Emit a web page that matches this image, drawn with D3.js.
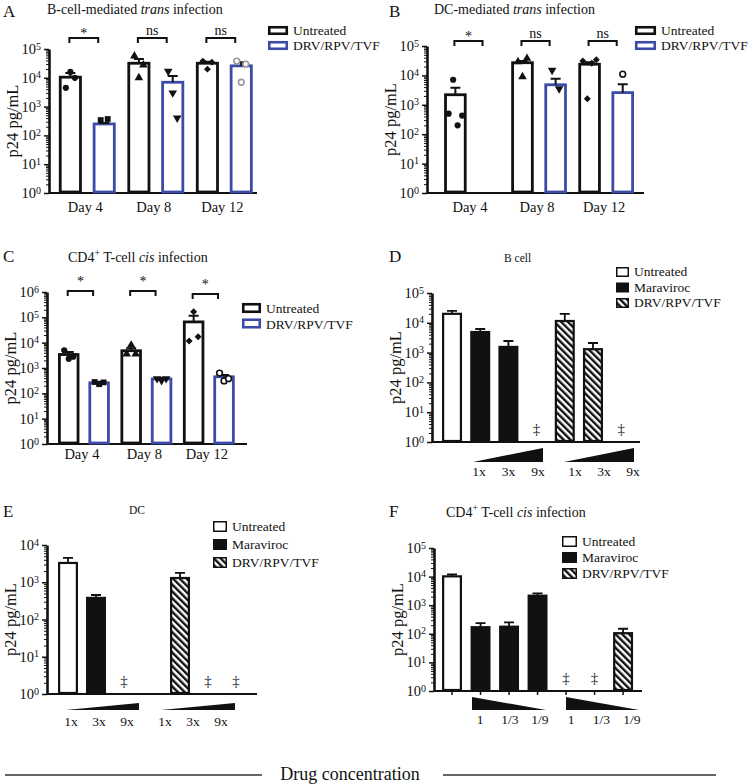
<!DOCTYPE html>
<html>
<head>
<meta charset="utf-8">
<script src="https://cdn.jsdelivr.net/npm/d3@7"></script>
<style>
  body { margin: 0; background: #fff; }
  svg, svg text { font-family: "Liberation Serif", "DejaVu Serif", "Times New Roman", serif; }
</style>
</head>
<body>
<svg id="fig" width="753" height="784" font-family="Liberation Serif, DejaVu Serif, serif"></svg>
<script>
// ---- data ----
var days = ["Day 4", "Day 8", "Day 12"];
var treatments = ["Untreated", "DRV/RPV/TVF"];
var conditions = ["Untreated", "Maraviroc", "DRV/RPV/TVF"];

// A: B-cell-mediated trans infection
var aUntreatedMean = [10500, 32000, 32000];
var aUntreatedErr = [14800, 45000, 36000];
var aUntreatedPts = [[4500, 16000, 10000], [57000, 10000, 28000], [38000, 20000, 35000]];
var aDrugMean = [250, 7000, 26000];
var aDrugErr = [270, 11500, 35000];
var aDrugPts = [[340, 370], [17000, 3000, 400], [38000, 7000, 30000]];
var aSig = ["*", "ns", "ns"];

// B: DC-mediated trans infection
var bUntreatedMean = [2200, 27000, 24000];
var bUntreatedErr = [3800, 31000, 28000];
var bUntreatedPts = [[500, 7100, 200, 430], [29000, 9000, 38000], [31000, 1600, 26000, 34000]];
var bDrugMean = [null, 4800, 2600];
var bDrugErr = [null, 7700, 5000];
var bDrugPts = [[], [15000, 3500], [11000]];
var bSig = ["*", "ns", "ns"];

// C: CD4+ T-cell cis infection
var cUntreatedMean = [3400, 4800, 66000];
var cUntreatedErr = [4300, 6000, 115000];
var cUntreatedPts = [[5000, 2300, 2800], [3600, 8000, 3600], [11700, 165000, 17000]];
var cDrugMean = [260, 370, 450];
var cDrugErr = [285, 400, 530];
var cDrugPts = [[280, 230, 270], [380, 320, 380], [630, 310, 380]];
var cSig = ["*", "*", "*"];

// D, E, F: drug titrations
var slotTreat = ["Untreated", "Maraviroc", "Maraviroc", "Maraviroc", "DRV/RPV/TVF", "DRV/RPV/TVF", "DRV/RPV/TVF"];
var foldSlots = ["Untreated", "MVC 1x", "MVC 3x", "MVC 9x", "DRV 1x", "DRV 3x", "DRV 9x"];
var foldDoses = ["1x", "3x", "9x"];
var dilutionSlots = ["Untreated", "MVC 1", "MVC 1/3", "MVC 1/9", "DRV 1", "DRV 1/3", "DRV 1/9"];
var dilutionDoses = ["1", "1/3", "1/9"];

var dMean = [20000, 4900, 1550, null, 11500, 1300, null];
var dErr = [25000, 6200, 2450, null, 20000, 2100, null];
var dBelowLimit = ["MVC 9x", "DRV 9x"];

var eMean = [3300, 380, null, null, 1300, null, null];
var eErr = [4500, 455, null, null, 1780, null, null];
var eBelowLimit = ["MVC 3x", "DRV 3x", "DRV 9x"];

var fMean = [10200, 170, 177, 2150, null, null, 105];
var fErr = [12000, 235, 250, 2600, null, null, 150];
var fBelowLimit = ["DRV 1", "DRV 1/3"];

// ---- drawing ----
var INK = "#111";
var BLUE = "#3c4ca6";
var SERIF = "Liberation Serif, DejaVu Serif, Times New Roman, serif";

var svg = d3.select("#fig");
svg.append("rect").attr("width", 753).attr("height", 784).attr("fill", "#fff");

var defs = svg.append("defs");
var hatch = defs.append("pattern")
    .attr("id", "hatch")
    .attr("patternUnits", "userSpaceOnUse")
    .attr("width", 4.8)
    .attr("height", 4.8)
    .attr("patternTransform", "rotate(-45)");
hatch.append("rect").attr("width", 4.8).attr("height", 4.8).attr("fill", "#fff");
hatch.append("rect").attr("width", 2.4).attr("height", 4.8).attr("fill", INK);

function addText(x, y, str, size, anchor) {
    return svg.append("text")
        .attr("x", x).attr("y", y)
        .attr("font-family", SERIF)
        .attr("font-size", size)
        .attr("text-anchor", anchor || "start")
        .attr("fill", INK)
        .text(str);
}

function addTitle(x, y, segs, size) {
    var t = svg.append("text").attr("x", x).attr("y", y)
        .attr("font-family", SERIF)
        .attr("font-size", size).attr("fill", INK);
    var shift = 0;
    segs.forEach(function(s) {
        var sp = t.append("tspan").text(s[0]);
        if (s[1] === "i") sp.attr("font-style", "italic");
        if (s[1] === "sup") {
            sp.attr("font-size", size * 0.7).attr("dy", -6);
            shift = 6;
        } else if (shift) {
            sp.attr("dy", shift);
            shift = 0;
        }
    });
}

function logAxis(g, y, cfg) {
    var majors = d3.range(0, cfg.maxExp + 1).map(e => Math.pow(10, e));
    var minors = [];
    for (var e = 0; e < cfg.maxExp; e++) {
        for (var k = 2; k < 10; k++) minors.push(k * Math.pow(10, e));
    }

    g.append("g")
        .attr("transform", `translate(${cfg.axisX},0)`)
        .call(d3.axisLeft(y).tickValues(minors).tickSize(3).tickSizeOuter(0).tickFormat(""))
        .call(a => a.select(".domain").remove())
        .selectAll("line").attr("stroke", INK).attr("stroke-width", 1);

    var yAxis = g.append("g")
        .attr("transform", `translate(${cfg.axisX},0)`)
        .call(d3.axisLeft(y).tickValues(majors).tickSize(5).tickSizeOuter(0).tickFormat(""));
    yAxis.select(".domain").attr("stroke", INK).attr("stroke-width", 2.6);
    yAxis.selectAll("line").attr("stroke", INK).attr("stroke-width", 1.5);

    var labels = g.selectAll(".ylab")
        .data(majors)
        .enter()
        .append("text")
            .attr("x", cfg.axisX - 8)
            .attr("y", d => y(d) + 5)
            .attr("text-anchor", "end")
            .attr("font-family", SERIF)
            .attr("font-size", 14.5)
            .attr("fill", INK);
    labels.append("tspan").text("10");
    labels.append("tspan").attr("font-size", 10).attr("dy", -4.5)
        .text(d => Math.round(Math.log10(d)));

    // x baseline
    g.append("line")
        .attr("x1", cfg.axisX).attr("x2", cfg.xEnd)
        .attr("y1", y(1)).attr("y2", y(1))
        .attr("stroke", INK).attr("stroke-width", 2);

    g.append("text")
        .attr("transform", `translate(${cfg.axisX - 31},${(cfg.yTop + cfg.yBottom) / 2}) rotate(-90)`)
        .attr("text-anchor", "middle")
        .attr("font-family", SERIF)
        .attr("font-size", 16.5)
        .attr("fill", INK)
        .text("p24 pg/mL");
}

var untShapes = ["circle", "triangle", "diamond"];
var drugShapes = ["square", "triangleDown", "openCircle"];

function markerPath(shape) {
    if (shape === "circle") return d3.symbol(d3.symbolCircle, 30)();
    if (shape === "openCircle") return d3.symbol(d3.symbolCircle, 26)();
    if (shape === "square") return d3.symbol(d3.symbolSquare, 34)();
    if (shape === "diamond") return d3.symbol(d3.symbolSquare, 24)();
    return d3.symbol(d3.symbolTriangle, 32)();
}
function markerRotation(shape) {
    if (shape === "diamond") return 45;
    if (shape === "triangleDown") return 180;
    return 0;
}

function groupedPanel(cfg, d) {
    var g = svg.append("g");
    var y = d3.scaleLog().domain([1, Math.pow(10, cfg.maxExp)]).range([cfg.yBottom, cfg.yTop]);
    var x = d3.scaleBand().domain(days).range(cfg.groupRange).paddingInner(0.17).paddingOuter(0.1);
    var xs = d3.scaleBand().domain(treatments).range([0, x.bandwidth()]).paddingInner(cfg.subPad);
    var bw = xs.bandwidth();

    logAxis(g, y, cfg);

    var rows = [];
    days.forEach(function(day, i) {
        rows.push({day: day, t: treatments[0], mean: d.untMean[i], err: d.untErr[i],
                   pts: d.untPts[i], shape: untShapes[i], color: INK});
        rows.push({day: day, t: treatments[1], mean: d.drugMean[i], err: d.drugErr[i],
                   pts: d.drugPts[i], shape: drugShapes[i], color: BLUE});
    });
    var cx = r => x(r.day) + xs(r.t) + bw / 2;

    var barRows = rows.filter(r => r.mean != null);
    g.selectAll(".bar")
        .data(barRows)
        .enter()
        .append("rect")
            .attr("x", r => x(r.day) + xs(r.t) + 1.4)
            .attr("y", r => y(r.mean))
            .attr("width", bw - 2.8)
            .attr("height", r => y(1) - y(r.mean) - 1)
            .attr("fill", "#fff")
            .attr("stroke", r => r.color)
            .attr("stroke-width", 2.8);

    var errRows = barRows.filter(r => r.err != null);
    g.selectAll(".err")
        .data(errRows)
        .enter()
        .append("path")
            .attr("d", r => `M${cx(r)},${y(r.mean)}V${y(r.err)}M${cx(r) - 5},${y(r.err)}H${cx(r) + 5}`)
            .attr("fill", "none")
            .attr("stroke", INK)
            .attr("stroke-width", 2);

    rows.forEach(function(r) {
        var n = r.pts.length;
        var open = r.shape === "openCircle";
        var spread = n === 2 ? 7 : 4.5;
        g.selectAll(null)
            .data(r.pts)
            .enter()
            .append("path")
                .attr("d", markerPath(r.shape))
                .attr("transform", (v, i) => `translate(${cx(r) + (i - (n - 1) / 2) * spread},${y(v)}) rotate(${markerRotation(r.shape)})`)
                .attr("fill", open ? "#fff" : INK)
                .attr("stroke", open ? cfg.openColor : "none")
                .attr("stroke-width", 1.6);
    });

    // significance brackets
    days.forEach(function(day, i) {
        var x1 = x(day) + xs(treatments[0]) + bw / 2 - 1;
        var x2 = x(day) + xs(treatments[1]) + bw / 2 - 6;
        var by = cfg.bracketY[i];
        g.append("path")
            .attr("d", `M${x1},${by + 5}V${by}H${x2}V${by + 5}`)
            .attr("fill", "none").attr("stroke", INK).attr("stroke-width", 2);
        var s = d.sig[i];
        g.append("text")
            .attr("x", (x1 + x2) / 2)
            .attr("y", s === "*" ? by + cfg.starDy : by - 3)
            .attr("text-anchor", "middle")
            .attr("font-family", SERIF)
            .attr("font-size", 14)
            .attr("fill", INK)
            .text(s);
    });

    // x labels
    g.selectAll(".xlab")
        .data(days)
        .enter()
        .append("text")
            .attr("x", dd => x(dd) + x.bandwidth() / 2 - 2)
            .attr("y", cfg.xLabelY)
            .attr("text-anchor", "middle")
            .attr("font-family", SERIF)
            .attr("font-size", 14.5)
            .attr("fill", INK)
            .text(dd => dd);

    // legend
    var L = cfg.legend;
    treatments.forEach(function(t, i) {
        g.append("rect")
            .attr("x", L.x + 1.25).attr("y", L.y + i * L.step + 1.25)
            .attr("width", L.w - 2.5).attr("height", L.h - 2.5)
            .attr("fill", "#fff")
            .attr("stroke", i === 0 ? INK : BLUE)
            .attr("stroke-width", 2.6);
        g.append("text")
            .attr("x", L.x + L.w + 5).attr("y", L.y + i * L.step + L.h)
            .attr("font-family", SERIF)
            .attr("font-size", 13.5).attr("fill", INK)
            .text(t);
    });
}

function fillFor(t) {
    if (t === "Untreated") return "#fff";
    if (t === "Maraviroc") return INK;
    return "url(#hatch)";
}

function dosePanel(cfg, slots, mean, err, below, doses) {
    var g = svg.append("g");
    var y = d3.scaleLog().domain([1, Math.pow(10, cfg.maxExp)]).range([cfg.yBottom, cfg.yTop]);
    var x = d3.scaleBand().domain(slots).range(cfg.slotRange).paddingInner(cfg.pad).paddingOuter(0.1);
    var bw = x.bandwidth();

    logAxis(g, y, cfg);

    if (cfg.xTicks) {
        g.append("g")
            .attr("transform", `translate(0,${y(1)})`)
            .call(d3.axisBottom(x).tickSize(4).tickSizeOuter(0).tickFormat(""))
            .call(a => a.select(".domain").remove())
            .selectAll("line").attr("stroke", INK).attr("stroke-width", 1.5);
    }

    var rows = slots.map((s, i) => ({s: s, t: slotTreat[i], mean: mean[i], err: err[i]}))
        .filter(r => r.mean != null);

    g.selectAll(".bar")
        .data(rows)
        .enter()
        .append("rect")
            .attr("x", r => x(r.s) + 1.1)
            .attr("y", r => y(r.mean))
            .attr("width", bw - 2.2)
            .attr("height", r => y(1) - y(r.mean) - 1)
            .attr("fill", r => fillFor(r.t))
            .attr("stroke", INK)
            .attr("stroke-width", 2.2);

    g.selectAll(".err")
        .data(rows)
        .enter()
        .append("path")
            .attr("d", r => {
                var c = x(r.s) + bw / 2;
                return `M${c},${y(r.mean)}V${y(r.err)}M${c - 5},${y(r.err)}H${c + 5}`;
            })
            .attr("fill", "none")
            .attr("stroke", INK)
            .attr("stroke-width", 1.8);

    g.selectAll(".dag")
        .data(below)
        .enter()
        .append("text")
            .attr("x", s => x(s) + bw / 2)
            .attr("y", y(1) - 8)
            .attr("text-anchor", "middle")
            .attr("font-family", SERIF)
            .attr("font-size", 15)
            .attr("fill", "#1a1a33")
            .text("\u2021");

    // concentration wedges and dose labels
    cfg.wedges.forEach(function(w) {
        var pts = cfg.rising
            ? [[w.x0, cfg.wedgeY[1]], [w.x1, cfg.wedgeY[1]], [w.x1, cfg.wedgeY[0]]]
            : [[w.x0, cfg.wedgeY[0]], [w.x0, cfg.wedgeY[1]], [w.x1, cfg.wedgeY[1]]];
        g.append("path")
            .attr("d", d3.line()(pts) + "Z")
            .attr("fill", INK);
        var px = d3.scalePoint().domain(doses).range(w.labels);
        g.selectAll(null)
            .data(doses)
            .enter()
            .append("text")
                .attr("x", dd => px(dd))
                .attr("y", cfg.doseY)
                .attr("text-anchor", "middle")
                .attr("font-family", SERIF)
                .attr("font-size", 13.5)
                .attr("fill", INK)
                .text(dd => dd);
    });

    // legend
    var L = cfg.legend;
    conditions.forEach(function(c, i) {
        g.append("rect")
            .attr("x", L.x + 0.75).attr("y", L.y + i * L.step + 0.75)
            .attr("width", L.w - 1.5).attr("height", L.h - 1.5)
            .attr("fill", fillFor(c))
            .attr("stroke", INK)
            .attr("stroke-width", 1.5);
        g.append("text")
            .attr("x", L.x + L.w + 5).attr("y", L.y + i * L.step + L.h - 1)
            .attr("font-family", SERIF)
            .attr("font-size", 13.5).attr("fill", INK)
            .text(c);
    });
}

// ---- panels ----
addText(3, 17, "A", 17);
addTitle(47, 14, [["B-cell-mediated ", ""], ["trans", "i"], [" infection", ""]], 14);
groupedPanel({
    axisX: 49, xEnd: 257, yTop: 49, yBottom: 193, maxExp: 5,
    groupRange: [52, 259.6], subPad: 0.32,
    bracketY: [38, 38, 38], starDy: 0, xLabelY: 212, openColor: "#9a9a9a",
    legend: {x: 268, y: 26, w: 20, h: 9, step: 15}
}, {untMean: aUntreatedMean, untErr: aUntreatedErr, untPts: aUntreatedPts,
    drugMean: aDrugMean, drugErr: aDrugErr, drugPts: aDrugPts, sig: aSig});

addText(389, 17, "B", 17);
addTitle(434, 14, [["DC-mediated ", ""], ["trans", "i"], [" infection", ""]], 14);
groupedPanel({
    axisX: 427, xEnd: 644, yTop: 46, yBottom: 193, maxExp: 5,
    groupRange: [437.4, 640.7], subPad: 0.32,
    bracketY: [41, 41, 41], starDy: 0, xLabelY: 212, openColor: INK,
    legend: {x: 635, y: 26, w: 21, h: 9, step: 15}
}, {untMean: bUntreatedMean, untErr: bUntreatedErr, untPts: bUntreatedPts,
    drugMean: bDrugMean, drugErr: bDrugErr, drugPts: bDrugPts, sig: bSig});

addText(3, 262, "C", 17);
addTitle(68, 262, [["CD4", ""], ["+", "sup"], [" T-cell ", ""], ["cis", "i"], [" infection", ""]], 14);
groupedPanel({
    axisX: 47, xEnd: 247, yTop: 292, yBottom: 444, maxExp: 6,
    groupRange: [51.75, 241], subPad: 0.295,
    bracketY: [291, 291, 294], starDy: -5, xLabelY: 459, openColor: INK,
    legend: {x: 242, y: 303, w: 19, h: 10, step: 15.5}
}, {untMean: cUntreatedMean, untErr: cUntreatedErr, untPts: cUntreatedPts,
    drugMean: cDrugMean, drugErr: cDrugErr, drugPts: cDrugPts, sig: cSig});

addText(389, 262, "D", 17);
addText(504, 262, "B cell", 11.5);
dosePanel({
    axisX: 432, xEnd: 640, yTop: 293, yBottom: 442, maxExp: 5,
    slotRange: [439.2, 634], pad: 0.29, xTicks: false,
    rising: true, wedgeY: [448, 462],
    wedges: [{x0: 473, x1: 543, labels: [479, 538]}, {x0: 564, x1: 634, labels: [575, 633]}],
    doseY: 476,
    legend: {x: 616, y: 267, w: 13, h: 10, step: 15.5}
}, foldSlots, dMean, dErr, dBelowLimit, foldDoses);

addText(3, 517, "E", 17);
addText(129, 514, "DC", 11.5);
dosePanel({
    axisX: 47, xEnd: 257, yTop: 545, yBottom: 694, maxExp: 4,
    slotRange: [55.2, 248.8], pad: 0.286, xTicks: false,
    rising: true, wedgeY: [703, 710],
    wedges: [{x0: 66, x1: 139, labels: [71, 127]}, {x0: 161, x1: 235, labels: [165, 221]}],
    doseY: 726,
    legend: {x: 213, y: 521, w: 14, h: 11, step: 18}
}, foldSlots, eMean, eErr, eBelowLimit, foldDoses);

addText(389, 517, "F", 17);
addTitle(446, 517, [["CD4", ""], ["+", "sup"], [" T-cell ", ""], ["cis", "i"], [" infection", ""]], 14);
dosePanel({
    axisX: 434, xEnd: 642, yTop: 548, yBottom: 691, maxExp: 5,
    slotRange: [439.2, 635.9], pad: 0.3, xTicks: true,
    rising: false, wedgeY: [697, 710],
    wedges: [{x0: 472, x1: 546, labels: [480, 540]}, {x0: 566, x1: 639, labels: [571, 632]}],
    doseY: 724,
    legend: {x: 562, y: 536, w: 15, h: 11, step: 16}
}, dilutionSlots, fMean, fErr, fBelowLimit, dilutionDoses);

// shared x label
svg.append("line").attr("x1", 5).attr("x2", 262).attr("y1", 775).attr("y2", 775)
    .attr("stroke", "#333").attr("stroke-width", 1.5);
svg.append("line").attr("x1", 443).attr("x2", 716).attr("y1", 775).attr("y2", 775)
    .attr("stroke", "#333").attr("stroke-width", 1.5);
addText(350, 780, "Drug concentration", 18, "middle");
</script>
</body>
</html>
